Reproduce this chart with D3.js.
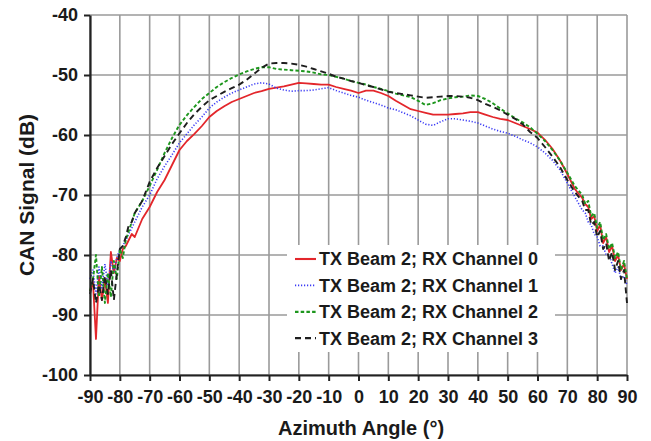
<!DOCTYPE html>
<html>
<head>
<meta charset="utf-8">
<script src="https://cdn.jsdelivr.net/npm/d3@7"></script>
<style>
  html, body { margin: 0; padding: 0; background: #fff; }
  svg { display: block; }
  text { font-family: "Liberation Sans", Arial, sans-serif; font-weight: bold; fill: #1a1a1a; }
</style>
</head>
<body>
<svg id="chart" width="651" height="441"></svg>
<script>
// Azimuth angles (deg): 1° steps at the noisy edges, 2.5° steps across the main lobe
const angles = [
  -90,-89,-88,-87,-86,-85,-84,-83,-82,-81,-80,-79,-78,-77,-76,-75,
  -72.5,-70,-67.5,-65,-62.5,-60,-57.5,-55,-52.5,-50,-47.5,-45,-42.5,-40,-37.5,-35,-32.5,-30,
  -27.5,-25,-22.5,-20,-17.5,-15,-12.5,-10,-7.5,-5,-2.5,0,2.5,5,7.5,10,12.5,15,17.5,20,
  22.5,25,27.5,30,32.5,35,37.5,40,42.5,45,47.5,50,52.5,55,57.5,60,62.5,65,67.5,70,72.5,
  75,76,77,78,79,80,81,82,83,84,85,86,87,88,89,90
];

// CAN signal (dB) per receive channel
const rxChannel0 = [
  -86,-84.5,-94,-83.5,-87.5,-84,-88,-79.5,-83,-80.5,-81,-79,-78.5,-77.5,-76.5,-77,
  -74,-72,-69.5,-67.5,-65,-62.5,-61,-59.8,-58.5,-57,-56,-55.2,-54.5,-54,-53.5,-53,-52.7,-52.3,
  -52.1,-51.9,-51.6,-51.3,-51.4,-51.5,-51.6,-51.6,-52,-52.3,-52.6,-53,-52.6,-52.6,-53,-53.5,-54.3,-55,-55.7,-56,
  -56.3,-56.6,-56.6,-56.6,-56.5,-56.4,-56.2,-56.2,-56.6,-57,-57.3,-57.5,-58,-58.5,-59,-59.6,-60.8,-62.3,-64.2,-66.5,-69,
  -70.5,-71.5,-72,-74,-73.5,-76,-75,-78,-77,-79.5,-78.5,-81,-80,-82.5,-81.5,-84
];
const rxChannel1 = [
  -84,-82.5,-86.5,-82,-85.5,-81.5,-85,-81,-83,-80.5,-79,-78.5,-77.5,-76.5,-75.5,-74.5,
  -72,-70,-67.3,-65.2,-63.3,-61.3,-59.8,-58.3,-57,-55.5,-54.5,-53.7,-53,-52.5,-52,-51.5,-51.3,-51.5,
  -52.2,-52.5,-52.7,-52.6,-52.6,-52.5,-52.3,-52.1,-52.6,-53,-53.4,-53.7,-54.2,-54.6,-55,-55.5,-55.8,-56.3,-56.8,-57.5,
  -58.2,-58.4,-57.8,-57.3,-57.3,-57.5,-57.7,-58,-58.5,-59,-59.4,-59.7,-60.2,-60.8,-61.3,-62,-63,-64.2,-65.8,-68,-70.3,
  -72.5,-73,-74.5,-75,-76.5,-77,-78.5,-78.5,-80,-80,-81.5,-83,-82,-84,-83.5,-85
];
const rxChannel2 = [
  -86,-84,-80,-87,-82,-88,-83,-87,-81,-84,-79,-80.5,-77.5,-76,-74.5,-73,
  -71,-68.5,-65.8,-63,-60.5,-58.3,-56.7,-55.3,-54,-53,-52,-51.2,-50.5,-49.9,-49.4,-49,-48.7,-48.7,
  -49,-49.1,-49.2,-49.3,-49.4,-49.6,-49.9,-50,-50.3,-50.6,-51,-51.3,-51.6,-52,-52.3,-52.7,-53.1,-53.4,-53.7,-54.3,
  -55,-54.7,-54.2,-53.9,-53.7,-53.6,-53.4,-53.5,-54,-54.7,-55.6,-56.4,-57.2,-57.9,-58.7,-59.8,-61,-62.5,-64.2,-66.3,-68.5,
  -70,-71.5,-71,-73.5,-73,-75.5,-74.5,-77.5,-76.5,-79,-78,-80.5,-79.5,-82.5,-81,-84
];
const rxChannel3 = [
  -86.5,-84,-88,-85,-87.5,-83.5,-86.5,-82.5,-87.5,-83,-79,-78.5,-77,-75,-74.5,-73,
  -71,-67.8,-65.5,-63.5,-61.5,-59.7,-58,-56.5,-55.3,-54.2,-53.5,-52.8,-52.2,-51.6,-50.8,-49.8,-48.8,-48.1,
  -48,-48,-48.1,-48.3,-48.6,-49,-49.4,-49.8,-50.3,-50.6,-51,-51.3,-51.7,-52,-52.4,-52.8,-53,-53.2,-53.4,-53.6,
  -53.8,-53.7,-53.6,-53.5,-53.5,-53.6,-53.8,-54.2,-54.8,-55.3,-55.9,-56.6,-57.3,-58.2,-59.5,-60.5,-62,-63.6,-65.3,-67.5,-69.5,
  -71,-72.5,-72.5,-75,-74.5,-77,-76,-79,-78,-81,-79.5,-82.5,-81,-84,-82.5,-88
];

const seriesLabels = [
  "TX Beam 2; RX Channel 0",
  "TX Beam 2; RX Channel 1",
  "TX Beam 2; RX Channel 2",
  "TX Beam 2; RX Channel 3"
];
const xTicks = d3.range(-90, 91, 10);
const yTicks = d3.range(-100, -39, 10);

const seriesStyles = [
  { color: "#e3262b", dash: null,  width: 1.8 },
  { color: "#3b3bf5", dash: "1.2,1.8", width: 1.6 },
  { color: "#1d961d", dash: "3.5,2.2", width: 1.9 },
  { color: "#1e1e1e", dash: "6,4",   width: 1.9 }
];
const seriesValues = [rxChannel0, rxChannel1, rxChannel2, rxChannel3];

const margin = { left: 90, right: 24, top: 15, bottom: 66 };
const W = 651, H = 441;
const svg = d3.select("#chart");

const x = d3.scaleLinear().domain([-90, 90]).range([margin.left, W - margin.right]);
const y = d3.scaleLinear().domain([-100, -40]).range([H - margin.bottom, margin.top]);

// grid
const grid = svg.append("g").attr("stroke", "#9a9a9a").attr("stroke-width", 1.6);
xTicks.forEach(t => {
  grid.append("line").attr("x1", x(t)).attr("x2", x(t)).attr("y1", y(-40)).attr("y2", y(-100));
});
yTicks.forEach(t => {
  grid.append("line").attr("x1", x(-90)).attr("x2", x(90)).attr("y1", y(t)).attr("y2", y(t));
});

// curves
const line = d3.line().x(d => x(d[0])).y(d => y(d[1]));
seriesValues.forEach((vals, i) => {
  const st = seriesStyles[i];
  svg.append("path")
    .datum(angles.map((a, k) => [a, vals[k]]))
    .attr("fill", "none")
    .attr("stroke", st.color)
    .attr("stroke-width", st.width)
    .attr("stroke-dasharray", st.dash)
    .attr("stroke-linejoin", "round")
    .attr("d", line);
});

// axes (plain hyphen-minus in tick labels)
const fmt = d => String(d);
const xAxis = d3.axisBottom(x).tickValues(xTicks).tickFormat(fmt).tickSize(6).tickSizeOuter(0).tickPadding(6);
const yAxis = d3.axisLeft(y).tickValues(yTicks).tickFormat(fmt).tickSize(6).tickSizeOuter(0).tickPadding(5);

const gx = svg.append("g").attr("transform", `translate(0,${y(-100)})`).call(xAxis);
const gy = svg.append("g").attr("transform", `translate(${x(-90)},0)`).call(yAxis);
[gx, gy].forEach(g => {
  g.select(".domain").attr("stroke", "#222").attr("stroke-width", 2.2);
  g.selectAll(".tick line").attr("stroke", "#222").attr("stroke-width", 2);
  g.selectAll(".tick text").style("font-size", "18px").style("font-family", "'Liberation Sans', Arial, sans-serif")
    .style("font-weight", "bold").attr("fill", "#1a1a1a");
});
gx.selectAll(".tick text").attr("dy", "0.9em");
gy.selectAll(".tick text").attr("dx", "-1");

// legend
const lg = svg.append("g");
lg.append("rect").attr("x", 287).attr("y", 245).attr("width", 268).attr("height", 107).attr("fill", "#fff");
seriesLabels.forEach((lab, i) => {
  const cy = 259 + i * 26.4;
  const st = seriesStyles[i];
  lg.append("line").attr("x1", 295).attr("x2", 316).attr("y1", cy).attr("y2", cy)
    .attr("stroke", st.color).attr("stroke-width", st.width + 0.3).attr("stroke-dasharray", st.dash);
  lg.append("text").attr("x", 319).attr("y", cy).attr("dy", "0.36em")
    .style("font-size", "18px").text(lab);
});

// axis titles
svg.append("text").attr("x", 361).attr("y", 435).attr("text-anchor", "middle")
  .style("font-size", "20px").text("Azimuth Angle (°)");
svg.append("text").attr("transform", `translate(34,${(y(-40) + y(-100)) / 2}) rotate(-90)`)
  .attr("text-anchor", "middle").style("font-size", "21px").text("CAN Signal (dB)");
</script>
</body>
</html>
